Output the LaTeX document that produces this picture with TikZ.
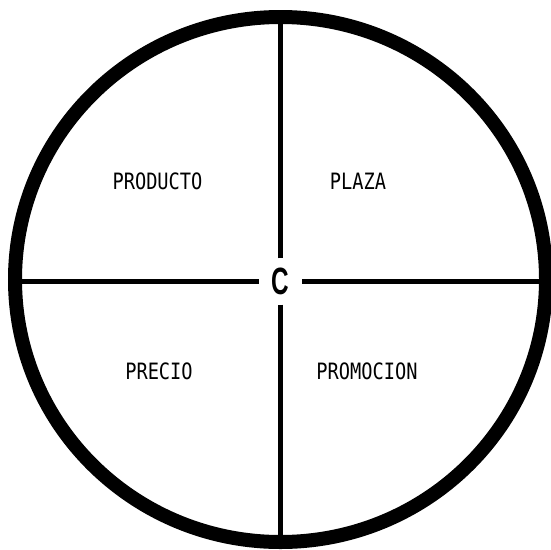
\documentclass[tikz,border=0pt]{standalone}
\usepackage{fontspec}
\usepackage{graphicx}
\newfontfamily\quadfont[FakeStretch=0.83]{DejaVu Sans Mono}
\newfontfamily\centrefont{Liberation Sans}
\usetikzlibrary{positioning}

\begin{document}
\begin{tikzpicture}[x=1pt,y=-1pt,
  ring/.style={line width=14pt},
  divider/.style={line width=5pt},
  quadlabel/.style={inner sep=0pt,font=\fontsize{22.5}{22.5}\selectfont\quadfont},
  centrelabel/.style={inner sep=0pt,minimum width=43pt,minimum height=46pt,font=\fontsize{38}{38}\selectfont\centrefont\bfseries}]
\useasboundingbox (0,0) rectangle (551,549);
% outer ring
\draw[ring] (280.5,279.5) ellipse [x radius=265.5pt,y radius=262.5pt];
% centre and the four ends of the cross
\node[centrelabel] (c) at (280.5,281.5) {\scalebox{0.64}[1]{C}};
\coordinate (top) at (280.5,17);
\coordinate (bottom) at (280.5,542);
\coordinate (left) at (15,281.5);
\coordinate (right) at (546,281.5);
\draw[divider] (c) -- (top);
\draw[divider] (c) -- (bottom);
\draw[divider] (c) -- (left);
\draw[divider] (c) -- (right);
% quadrants
\node[quadlabel] (producto) at (157.5,181) {PRODUCTO};
\node[quadlabel] (plaza) at (358,181) {PLAZA};
\node[quadlabel] (precio) at (159,371) {PRECIO};
\node[quadlabel] (promocion) at (367,371) {PROMOCION};
\end{tikzpicture}
\end{document}
